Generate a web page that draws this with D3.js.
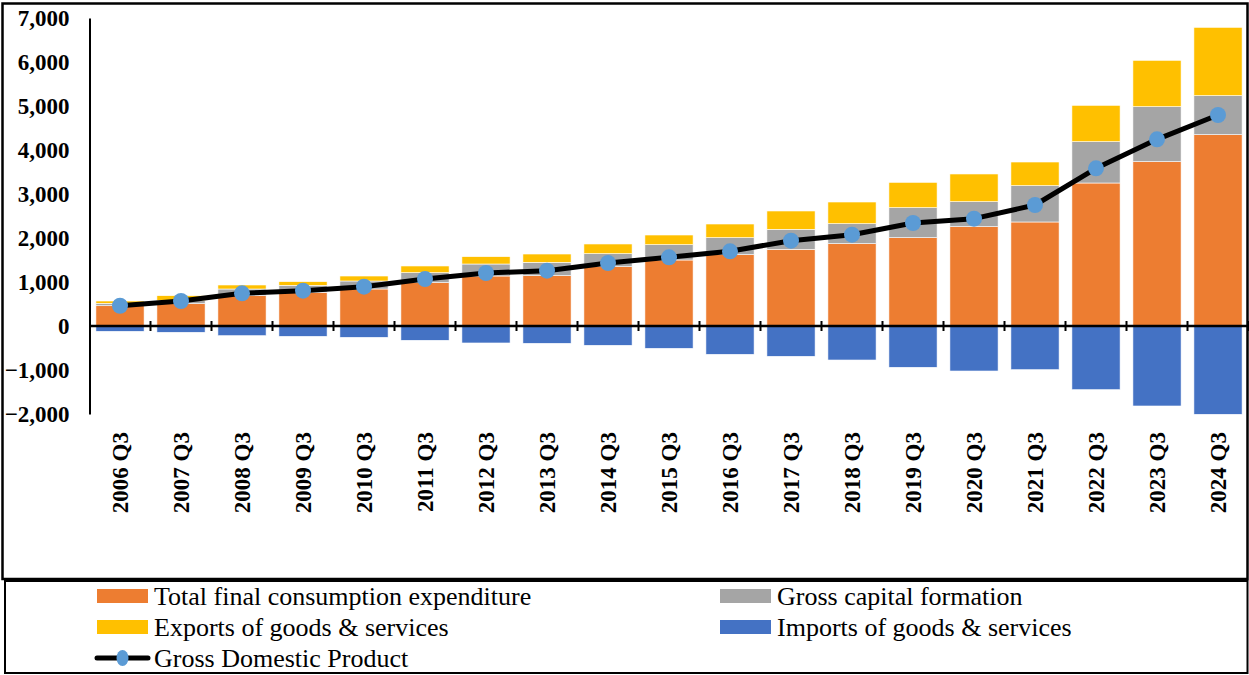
<!DOCTYPE html>
<html>
<head>
<meta charset="utf-8">
<script src="https://cdn.jsdelivr.net/npm/d3@7"></script>
<style>
  body { margin: 0; background: #fff; }
  svg { display: block; font-family: "Liberation Serif", "Times New Roman", serif; }
</style>
</head>
<body>
<div id="chart"></div>
<script>
	var categories = [ "2006 Q3", "2007 Q3", "2008 Q3", "2009 Q3", "2010 Q3", "2011 Q3", "2012 Q3",
		"2013 Q3", "2014 Q3", "2015 Q3", "2016 Q3", "2017 Q3", "2018 Q3", "2019 Q3", "2020 Q3",
		"2021 Q3", "2022 Q3", "2023 Q3", "2024 Q3" ];
	var consumption = [ 461, 507, 689, 765, 841, 985, 1136, 1144, 1348, 1500, 1621, 1742, 1871,
		2007, 2257, 2364, 3250, 3735, 4348 ];
	var capitalFormation = [ 54, 68, 152, 159, 182, 227, 273, 303, 296, 348, 386, 455, 454,
		682, 568, 825, 939, 1249, 887 ];
	var exportsGS = [ 53, 114, 91, 84, 113, 152, 167, 189, 220, 220, 311, 417, 493,
		576, 630, 538, 826, 1054, 1553 ];
	var importsGS = [ -121, -143, -220, -235, -258, -325, -386, -394, -439, -508, -644, -689, -773,
		-939, -1023, -993, -1447, -1818, -2007 ];
	var gdp = [ 460, 568, 742, 803, 894, 1068, 1205, 1258, 1432, 1561, 1697, 1939, 2075,
		2341, 2439, 2750, 3583, 4242, 4795 ];
	var yTicks = [ -2000, -1000, 0, 1000, 2000, 3000, 4000, 5000, 6000, 7000 ];

	var seriesKeys = [ "consumption", "capital", "exports", "imports" ];
	var seriesNames = {
		consumption: "Total final consumption expenditure",
		capital: "Gross capital formation",
		exports: "Exports of goods & services",
		imports: "Imports of goods & services"
	};
	var colors = { consumption: "#ED7D31", capital: "#A5A5A5", exports: "#FFC000", imports: "#4472C4" };

	var width = 1249, height = 675;
	var table = categories.map( function ( c, i ) {
		return { name: c, consumption: consumption[i], capital: capitalFormation[i],
			exports: exportsGS[i], imports: importsGS[i], gdp: gdp[i] };
	});

	var svg = d3.select( "#chart" ).append( "svg" )
		.attr( "width", width ).attr( "height", height );

	// outer frames
	svg.append( "rect" ).attr( "x", 2.5 ).attr( "y", 3.5 ).attr( "width", 1245 ).attr( "height", 575.5 )
		.attr( "fill", "none" ).attr( "stroke", "#000" ).attr( "stroke-width", 2.5 );
	svg.append( "rect" ).attr( "x", 5 ).attr( "y", 581 ).attr( "width", 1242.5 ).attr( "height", 92 )
		.attr( "fill", "none" ).attr( "stroke", "#000" ).attr( "stroke-width", 2 );

	var xScale = d3.scaleBand()
		.domain( categories )
		.range( [ 89.5, 1248.5 ] )
		.paddingInner( 0.21 )
		.paddingOuter( 0.105 );

	var yScale = d3.scaleLinear()
		.domain( [ -2000, 7000 ] )
		.range( [ 414, 18 ] );

	var stacked = d3.stack()
		.keys( seriesKeys )
		.offset( d3.stackOffsetDiverging )( table );

	svg.append( "g" ).selectAll( "g" )
		.data( stacked )
		.enter().append( "g" )
		.attr( "fill", d => colors[ d.key ] )
		.selectAll( "rect" )
		.data( d => d )
		.enter().append( "rect" )
		.attr( "x", d => xScale( d.data.name ) )
		.attr( "width", xScale.bandwidth() )
		.attr( "y", d => yScale( d[1] ) )
		.attr( "height", d => yScale( d[0] ) - yScale( d[1] ) )
		.attr( "stroke", "#fff" )
		.attr( "stroke-width", 0.6 );

	// y axis
	var yAxis = svg.append( "g" )
		.attr( "transform", "translate(89.5,0)" )
		.call( d3.axisLeft( yScale ).tickValues( yTicks ).tickFormat( d3.format( "," ) ).tickSize( 0 ).tickPadding( 20 ) );
	yAxis.select( ".domain" ).attr( "stroke", "#000" ).attr( "stroke-width", 2 );
	yAxis.selectAll( "text" )
		.attr( "font-family", "Liberation Serif" )
		.attr( "font-size", "23px" )
		.attr( "font-weight", "bold" )
		.attr( "fill", "#000" );

	// x axis line at zero with boundary ticks
	var step = xScale.step();
	var x0 = xScale.range()[0];
	svg.append( "line" )
		.attr( "x1", x0 ).attr( "x2", 1249 )
		.attr( "y1", yScale( 0 ) ).attr( "y2", yScale( 0 ) )
		.attr( "stroke", "#000" ).attr( "stroke-width", 2.5 );
	svg.append( "g" ).selectAll( "line" )
		.data( categories )
		.enter().append( "line" )
		.attr( "x1", ( d, i ) => x0 + step * ( i + 1 ) )
		.attr( "x2", ( d, i ) => x0 + step * ( i + 1 ) )
		.attr( "y1", yScale( 0 ) - 5 )
		.attr( "y2", yScale( 0 ) + 5 )
		.attr( "stroke", "#000" ).attr( "stroke-width", 2 );

	svg.append( "g" ).selectAll( "text" )
		.data( categories )
		.enter().append( "text" )
		.attr( "transform", d => "translate(" + ( xScale( d ) + xScale.bandwidth() / 2 ) + ",432) rotate(-90)" )
		.attr( "text-anchor", "end" )
		.attr( "dy", "0.35em" )
		.attr( "font-size", "23px" )
		.attr( "font-weight", "bold" )
		.text( d => d );

	// GDP line
	var line = d3.line()
		.x( d => xScale( d.name ) + xScale.bandwidth() / 2 )
		.y( d => yScale( d.gdp ) );
	svg.append( "path" )
		.datum( table )
		.attr( "fill", "none" )
		.attr( "stroke", "#000" )
		.attr( "stroke-width", 5 )
		.attr( "stroke-linejoin", "round" )
		.attr( "d", line );
	svg.append( "g" ).selectAll( "circle" )
		.data( table )
		.enter().append( "circle" )
		.attr( "cx", d => xScale( d.name ) + xScale.bandwidth() / 2 )
		.attr( "cy", d => yScale( d.gdp ) )
		.attr( "r", 8 )
		.attr( "fill", "#5B9BD5" );

	// legend
	var legendItems = [
		{ key: "consumption", x: 97, y: 596 },
		{ key: "capital", x: 720, y: 596 },
		{ key: "exports", x: 97, y: 627 },
		{ key: "imports", x: 720, y: 627 }
	];
	var legend = svg.append( "g" );
	legend.selectAll( "rect" )
		.data( legendItems )
		.enter().append( "rect" )
		.attr( "x", d => d.x ).attr( "y", d => d.y - 7 )
		.attr( "width", 51 ).attr( "height", 14 )
		.attr( "fill", d => colors[ d.key ] );
	legend.selectAll( "text.lg" )
		.data( legendItems )
		.enter().append( "text" )
		.attr( "class", "lg" )
		.attr( "x", d => d.x + 57 ).attr( "y", d => d.y )
		.attr( "dy", "0.35em" )
		.attr( "font-size", "26px" )
		.text( d => seriesNames[ d.key ] );

	legend.append( "line" )
		.attr( "x1", 97 ).attr( "x2", 148 ).attr( "y1", 658 ).attr( "y2", 658 )
		.attr( "stroke", "#000" ).attr( "stroke-width", 5 ).attr( "stroke-linecap", "round" );
	legend.append( "ellipse" )
		.attr( "cx", 122.5 ).attr( "cy", 658 ).attr( "rx", 6 ).attr( "ry", 8 )
		.attr( "fill", "#5B9BD5" );
	legend.append( "text" )
		.attr( "x", 154 ).attr( "y", 658 ).attr( "dy", "0.35em" )
		.attr( "font-size", "26px" )
		.text( "Gross Domestic Product" );
</script>
</body>
</html>
